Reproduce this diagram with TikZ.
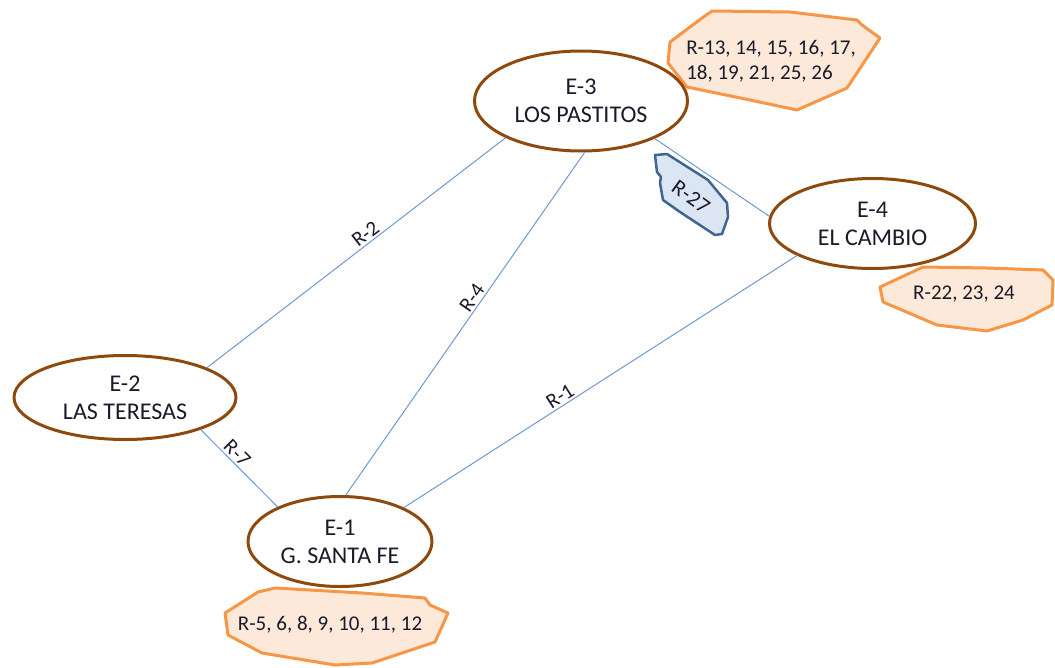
\documentclass[tikz,border=0pt]{standalone}
\usepackage{fontspec}
\setmainfont{Carlito}
\usetikzlibrary{shapes.geometric}
\definecolor{cafe}{HTML}{8E4A0E}
\definecolor{lineaazul}{HTML}{6F98CF}
\definecolor{naranja}{HTML}{F79646}
\definecolor{durazno}{HTML}{FDE9D9}
\definecolor{azulosc}{HTML}{3F6593}
\definecolor{celeste}{HTML}{DCE6F2}
\definecolor{texto}{HTML}{1A1A2A}
\begin{document}
\begin{tikzpicture}[line join=round,line cap=round,x=1pt,y=1pt,
  every node/.style={font=\fontsize{21}{25}\selectfont,text=texto},
  estacion/.style={ellipse,draw=cafe,line width=3pt,fill=white,inner sep=0pt,align=center,font=\fontsize{24}{28}\selectfont},
  ruta/.style={draw=lineaazul,line width=1pt},
  etiq/.style={sloped,above,inner sep=2pt},
  grupo/.style={draw=naranja,fill=durazno,line width=3pt}]
\useasboundingbox (0,0) rectangle (1055,-667);
\fill[white] (0,0) rectangle (1055,-667);
\draw[grupo] (670,-42) -- (702,-18) -- (712,-11) -- (790,-12) -- (857,-20) -- (862,-25) -- (880,-38) -- (847,-88) -- (797,-110) -- (750,-100) -- (687,-87) -- (668,-63) -- cycle;
\draw[grupo] (880,-287) -- (923,-267) -- (987,-268) -- (1043,-270) -- (1053,-280) -- (1052,-305) -- (1023,-320) -- (987,-331) -- (937,-325) -- (883,-302) -- cycle;
\draw[grupo] (225,-613) -- (258,-592) -- (275,-588) -- (362,-593) -- (425,-598) -- (430,-605) -- (448,-613) -- (435,-642) -- (372,-663) -- (335,-665) -- (262,-653) -- (228,-635) -- cycle;
\node[align=left] (g3) at (771,-61) {R-13, 14, 15, 16, 17,\\18, 19, 21, 25, 26};
\node (g4) at (964,-294) {R-22, 23, 24};
\node (g1) at (330,-625) {R-5, 6, 8, 9, 10, 11, 12};
\node[estacion,minimum width=213pt,minimum height=100pt] (e3) at (581,-101) {E-3\\LOS PASTITOS};
\node[estacion,minimum width=206pt,minimum height=90pt] (e4) at (872.5,-223.5) {E-4\\EL CAMBIO};
\node[estacion,minimum width=222pt,minimum height=84pt] (e2) at (125,-397.5) {E-2\\LAS TERESAS};
\node[estacion,minimum width=184pt,minimum height=90pt] (e1) at (340,-541.5) {E-1\\G. SANTA FE};
\draw[ruta] (e2.20.2) -- node[etiq,pos=0.55] (r2) {R-2} (e3.206.6);
\draw[ruta] (e1.83.9) -- node[etiq,pos=0.56] (r4) {R-4} (e3.274.5);
\draw[ruta] (e1.28.2) -- node[etiq,pos=0.41] (r1) {R-1} (e4.203.9);
\draw[ruta] (e2.337.4) -- node[etiq,pos=0.39] (r7) {R-7} (e1.151.8);
\draw[ruta] (e3.333) -- (e4.176.9);
\draw[draw=azulosc,fill=celeste,line width=2.5pt] (655,-155) -- (667,-154) -- (708,-180) -- (727,-203) -- (728,-217) -- (722,-234) -- (715,-235) -- (680,-212) -- (663,-200) -- (660,-183) -- (661,-177) -- (657,-172) -- cycle;
\node[rotate=-36,font=\fontsize{22}{26}\selectfont] (r27) at (691,-197) {R-27};
\end{tikzpicture}
\end{document}
